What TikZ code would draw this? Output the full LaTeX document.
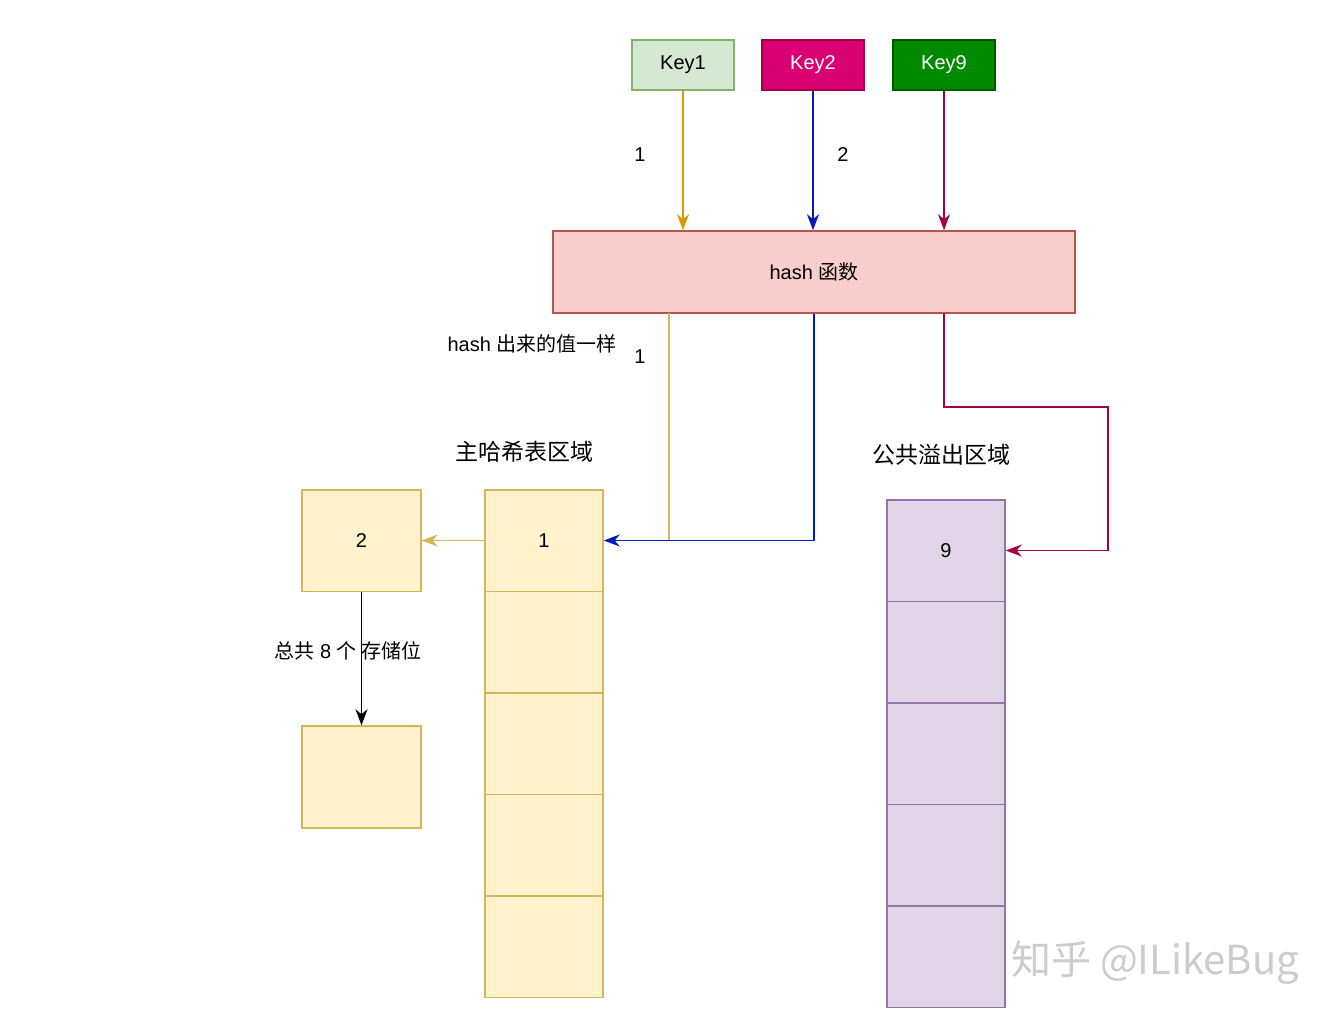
\documentclass[tikz,border=0pt]{standalone}
\usepackage{fontspec}
\setmainfont{Liberation Sans}
\newfontfamily\cjk{Noto Sans CJK SC}
\usetikzlibrary{arrows.meta}
\definecolor{k1fill}{HTML}{D5E8D4}\definecolor{k1draw}{HTML}{82B366}
\definecolor{k2fill}{HTML}{D80073}\definecolor{k2draw}{HTML}{A50040}
\definecolor{k9fill}{HTML}{008A00}\definecolor{k9draw}{HTML}{005700}
\definecolor{hfill}{HTML}{F8CECC}\definecolor{hdraw}{HTML}{B85450}
\definecolor{yfill}{HTML}{FFF2CC}\definecolor{ydraw}{HTML}{D6B656}
\definecolor{pfill}{HTML}{E1D5E7}\definecolor{pdraw}{HTML}{9673A6}
\definecolor{orangeline}{HTML}{D79B00}
\definecolor{blueline}{HTML}{001DBC}
\definecolor{redline}{HTML}{A50040}
\tikzset{
  box/.style={draw, line width=1.5pt, inner sep=0pt, font=\fontsize{20}{22}\selectfont},
  keybox/.style={box, minimum width=102pt, minimum height=50pt},
  cell/.style={box, minimum width=118pt, minimum height=101.5pt},
  ycell/.style={cell, fill=yfill, draw=ydraw},
  pcell/.style={cell, fill=pfill, draw=pdraw},
  conn/.style={line width=1.5pt, -{Stealth[length=16pt,width=12pt,inset=5pt]}},
  lbl/.style={font=\fontsize{20}{22}\selectfont, inner sep=0pt},
  title/.style={font=\fontsize{23}{25}\selectfont, inner sep=0pt}
}
\begin{document}
\begin{tikzpicture}[x=1pt,y=-1pt]
\useasboundingbox (0,0) rectangle (1334,1024);
\fill[white] (0,0) rectangle (1334,1024);
% keys
\node[keybox, fill=k1fill, draw=k1draw] (k1) at (683,65) {Key1};
\node[keybox, fill=k2fill, draw=k2draw, text=white] (k2) at (813,65) {Key2};
\node[keybox, fill=k9fill, draw=k9draw, text=white] (k9) at (944,65) {Key9};
% hash
\node[box, fill=hfill, draw=hdraw, minimum width=522pt, minimum height=82pt] (hash) at (814,272) {hash {\cjk 函数}};
% main table
\node[ycell] (m1) at (544,540.5) {1};
\node[ycell] (m2) at (544,642) {};
\node[ycell] (m3) at (544,743.5) {};
\node[ycell] (m4) at (544,845) {};
\node[ycell] (m5) at (544,946.5) {};
% chain
\node[ycell, minimum width=119pt] (b2) at (361.5,540.5) {2};
\node[ycell, minimum width=119pt, minimum height=102pt] (b3) at (361.5,777) {};
% overflow table
\node[pcell] (o1) at (946,550.5) {9};
\node[pcell] (o2) at (946,652) {};
\node[pcell] (o3) at (946,753.5) {};
\node[pcell] (o4) at (946,855) {};
\node[pcell] (o5) at (946,956.5) {};
% titles and labels
\node[title] (t1) at (524,452) {\cjk 主哈希表区域};
\node[title] (t2) at (941,455) {\cjk 公共溢出区域};
\node[lbl] (l1) at (640,155) {1};
\node[lbl] (l2) at (843,155) {2};
\node[lbl] (l3) at (532,344) {hash {\cjk 出来的值一样}};
\node[lbl] (l4) at (640,357) {1};
\node[lbl] (l5) at (348,651) {{\cjk 总共} 8 {\cjk 个 存储位}};
% connectors from keys
\draw[conn, orangeline] (k1.south) -- (k1.south |- hash.north);
\draw[conn, blueline] (k2.south) -- (k2.south |- hash.north);
\draw[conn, redline] (k9.south) -- (k9.south |- hash.north);
% hash outputs
\coordinate (hg) at (669,313);
\coordinate (hr) at (944,313);
\coordinate (rc) at (1108,407);
\draw[line width=1.5pt, ydraw] (hg) -- (hg |- m1.east);
\draw[conn, blueline] (hash.south) |- (m1.east);
\draw[conn, redline] (hr) |- (rc) |- (o1.east);
% chain arrows
\draw[conn, ydraw] (m1.west) -- (b2.east);
\draw[conn, black] (b2.south) -- (b3.north);
% watermark
\node[font=\cjk\fontsize{40}{42}\selectfont, text=black!20, inner sep=0pt] (wm) at (1155,963) {知乎 @ILikeBug};
\end{tikzpicture}
\end{document}
